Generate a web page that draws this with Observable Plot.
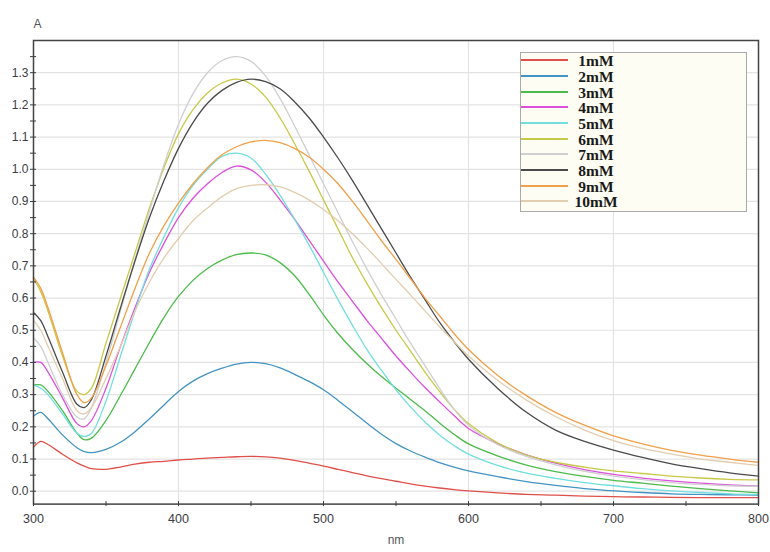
<!DOCTYPE html>
<html><head><meta charset="utf-8">
<script src="https://cdn.jsdelivr.net/npm/d3@7"></script>
<script src="https://cdn.jsdelivr.net/npm/@observablehq/plot@0.6"></script>
<style>
body{margin:0;background:#fff;}
#wrap{position:relative;width:770px;height:552px;overflow:hidden;}
#legend{position:absolute;left:520px;top:52px;width:227px;height:160px;box-sizing:border-box;background:#fdfdf3;border:1.5px solid #aaa;}
.lg-line{position:absolute;height:2px;}
.lg-text{position:absolute;width:70px;text-align:center;font-family:"Liberation Serif","DejaVu Serif",serif;font-weight:bold;font-size:15.5px;line-height:16px;color:#1a1a1a;}
</style></head><body><div id="wrap"></div>
<script>
const wavelengths = [300,305,310,320,330,335,340,350,360,370,380,390,400,410,420,430,440,450,460,470,480,490,500,510,520,530,540,550,560,570,580,590,600,620,640,660,680,700,720,740,760,780,800];
const s1mM  = [0.137,0.155,0.145,0.115,0.088,0.078,0.070,0.068,0.075,0.084,0.090,0.093,0.097,0.100,0.103,0.105,0.107,0.108,0.107,0.103,0.096,0.087,0.078,0.068,0.058,0.048,0.039,0.031,0.023,0.016,0.010,0.005,0.001,-0.005,-0.010,-0.012,-0.015,-0.017,-0.018,-0.019,-0.020,-0.020,-0.020];
const s2mM  = [0.233,0.245,0.225,0.175,0.135,0.123,0.120,0.130,0.152,0.185,0.225,0.268,0.310,0.342,0.365,0.382,0.395,0.400,0.396,0.383,0.363,0.341,0.315,0.282,0.247,0.211,0.177,0.148,0.125,0.106,0.089,0.075,0.063,0.045,0.030,0.018,0.008,0.001,-0.004,-0.008,-0.010,-0.011,-0.012];
const s3mM  = [0.330,0.330,0.310,0.250,0.180,0.160,0.165,0.220,0.298,0.380,0.462,0.540,0.605,0.655,0.692,0.718,0.735,0.740,0.734,0.710,0.670,0.612,0.548,0.490,0.440,0.396,0.356,0.320,0.285,0.250,0.212,0.177,0.147,0.110,0.081,0.061,0.046,0.034,0.025,0.016,0.008,0.001,-0.005];
const s4mM  = [0.400,0.400,0.370,0.290,0.210,0.200,0.220,0.320,0.450,0.570,0.680,0.770,0.850,0.910,0.955,0.990,1.010,0.998,0.960,0.905,0.845,0.780,0.715,0.650,0.590,0.530,0.475,0.420,0.370,0.322,0.278,0.235,0.195,0.148,0.113,0.087,0.067,0.052,0.041,0.032,0.025,0.020,0.016];
const s5mM  = [0.330,0.320,0.300,0.240,0.180,0.170,0.180,0.280,0.420,0.560,0.690,0.790,0.880,0.950,1.000,1.040,1.050,1.035,0.985,0.920,0.845,0.765,0.680,0.595,0.515,0.440,0.375,0.315,0.262,0.215,0.175,0.142,0.115,0.080,0.056,0.040,0.027,0.017,0.008,0.001,-0.004,-0.008,-0.010];
const s6mM  = [0.660,0.620,0.560,0.420,0.310,0.300,0.320,0.460,0.600,0.740,0.880,1.005,1.110,1.185,1.237,1.268,1.280,1.265,1.225,1.160,1.080,0.995,0.905,0.815,0.725,0.645,0.570,0.500,0.435,0.370,0.310,0.255,0.210,0.150,0.112,0.090,0.075,0.063,0.055,0.047,0.041,0.037,0.035];
const s7mM  = [0.476,0.450,0.400,0.300,0.230,0.225,0.260,0.400,0.560,0.720,0.870,1.015,1.140,1.235,1.300,1.338,1.350,1.335,1.290,1.220,1.135,1.045,0.955,0.865,0.775,0.690,0.610,0.535,0.460,0.390,0.320,0.255,0.205,0.145,0.108,0.082,0.062,0.047,0.036,0.027,0.021,0.017,0.015];
const s8mM  = [0.555,0.530,0.480,0.370,0.270,0.260,0.285,0.420,0.570,0.715,0.850,0.965,1.065,1.145,1.205,1.245,1.270,1.280,1.272,1.250,1.210,1.160,1.100,1.035,0.965,0.890,0.815,0.740,0.665,0.595,0.525,0.465,0.410,0.320,0.245,0.190,0.155,0.128,0.105,0.085,0.070,0.057,0.047];
const s9mM  = [0.665,0.630,0.570,0.430,0.300,0.275,0.290,0.390,0.510,0.630,0.740,0.825,0.895,0.955,1.005,1.045,1.070,1.085,1.090,1.083,1.065,1.038,1.000,0.955,0.900,0.840,0.778,0.720,0.660,0.600,0.545,0.490,0.440,0.360,0.297,0.245,0.205,0.172,0.147,0.127,0.112,0.100,0.090];
const s10mM = [0.530,0.500,0.450,0.350,0.250,0.240,0.260,0.350,0.450,0.560,0.650,0.725,0.785,0.840,0.880,0.915,0.940,0.950,0.952,0.945,0.928,0.905,0.875,0.840,0.800,0.755,0.707,0.658,0.610,0.560,0.511,0.465,0.420,0.345,0.283,0.232,0.190,0.157,0.133,0.115,0.100,0.090,0.080];
const seriesNames  = ["1mM","2mM","3mM","4mM","5mM","6mM","7mM","8mM","9mM","10mM"];
const seriesColors = ["#e0504a","#4393c3","#4cbb4c","#dc50dc","#72dede","#c8c848","#cfcfcf","#4a4a4a","#f0a04a","#e3cdb0"];
const seriesValues = [s1mM,s2mM,s3mM,s4mM,s5mM,s6mM,s7mM,s8mM,s9mM,s10mM];
const yTicks = [0,0.1,0.2,0.3,0.4,0.5,0.6,0.7,0.8,0.9,1.0,1.1,1.2,1.3];
const yMinor = [0.05,0.15,0.25,0.35,0.45,0.55,0.65,0.75,0.85,0.95,1.05,1.15,1.25,1.35];
const xTicks = [300,400,500,600,700,800];
const xMinor = [350,450,550,650,750];

const data = seriesNames.flatMap((name,i) => wavelengths.map((w,j) => ({nm:w, A:seriesValues[i][j], series:name})));

const chart = Plot.plot({
  width:770, height:552,
  marginLeft:33, marginRight:12, marginTop:40, marginBottom:48.4,
  x:{domain:[300,800]},
  y:{domain:[-0.04,1.4]},
  color:{domain:seriesNames, range:seriesColors},
  style:{fontFamily:"'Liberation Sans', Arial, sans-serif", fontSize:"12px", color:"#3c3c44", background:"#fff"},
  marks:[
    Plot.gridY({ticks:yTicks, stroke:"#e3e3e3", strokeOpacity:1, strokeWidth:1.2}),
    Plot.gridX({ticks:xTicks, stroke:"#e3e3e3", strokeOpacity:1, strokeWidth:1.2}),
    Plot.line(data, {x:"nm", y:"A", z:"series", stroke:"series", strokeWidth:1.3, curve:"catmull-rom"}),
    Plot.frame({stroke:"#444", strokeWidth:1.5}),
    Plot.axisY({ticks:yTicks, tickSize:6, dx:3, tickPadding:2, tickFormat:d3.format(".1f"), label:null, fontSize:12}),
    Plot.axisY({ticks:yMinor, tickSize:6, dx:3, tickFormat:() => "", label:null}),
    Plot.axisX({ticks:xTicks, tickSize:5, dy:-2.5, tickPadding:8, label:null, fontSize:12.5}),
    Plot.axisX({ticks:xMinor, tickSize:5, dy:-2.5, tickFormat:() => "", label:null}),
    Plot.text(["A"], {text:d => d, frameAnchor:"top-left", dy:-21, fill:"#555", fontSize:12}),
    Plot.text(["nm"], {text:d => d, frameAnchor:"bottom", dy:40, fill:"#555", fontSize:12})
  ]
});
const wrap = document.getElementById("wrap");
wrap.appendChild(chart);

const legend = document.createElement("div");
legend.id = "legend";
seriesNames.forEach((name,i) => {
  const cy = 60.7 + i*15.67 - 52 - 1.5;
  const ln = document.createElement("div");
  ln.className = "lg-line";
  ln.style.left = (521.7-520-1.5) + "px";
  ln.style.width = "47px";
  ln.style.top = (cy - 1) + "px";
  ln.style.background = seriesColors[i];
  legend.appendChild(ln);
  const tx = document.createElement("div");
  tx.className = "lg-text";
  tx.style.left = (596.5-520-1.5-35) + "px";
  tx.style.top = (cy - 7) + "px";
  tx.textContent = name;
  legend.appendChild(tx);
});
wrap.appendChild(legend);
</script>
</body></html>
